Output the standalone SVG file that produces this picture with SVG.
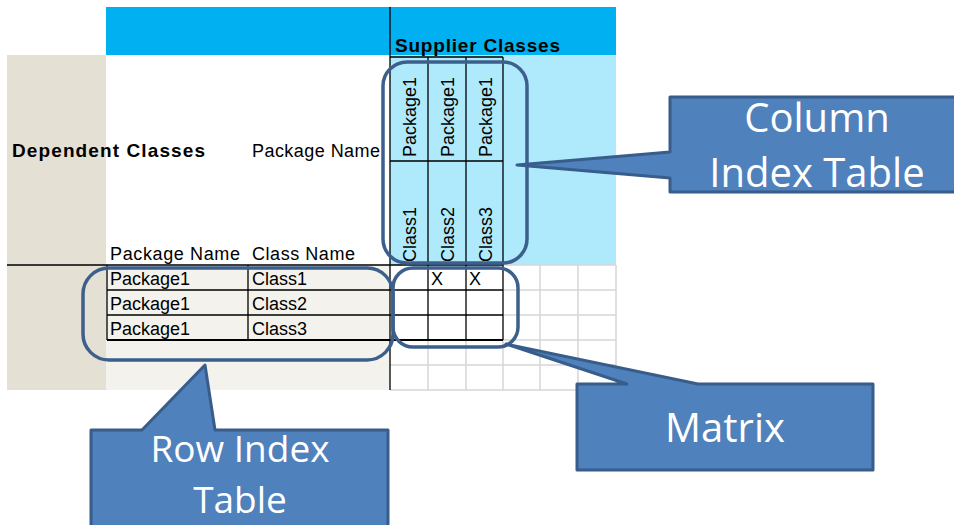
<svg xmlns="http://www.w3.org/2000/svg" width="954" height="525" viewBox="0 0 954 525">
<style>
.t{font-family:"Liberation Sans",Arial,sans-serif;font-size:18px;fill:#000}
.b{font-weight:bold;font-size:19px}
.dk{stroke:#000;stroke-width:1.3;fill:none}
.dk2{stroke:#000;stroke-width:2;fill:none}
.lg{stroke:#d6d6d6;stroke-width:1.5;fill:none}
.hl{fill:none;stroke:#3c5f8c;stroke-width:3.5}
.co{fill:#4f81bd;stroke:#385d8a;stroke-width:3;stroke-linejoin:round}
.ct{font-family:"Open Sans","Liberation Sans",sans-serif;font-size:40px;fill:#fff;text-anchor:middle}
.cs{font-size:37px}
</style>
<rect width="954" height="525" fill="#fff"/>
<g id="sheet">
<rect x="106" y="7" width="510" height="48" fill="#00b0f0"/>
<rect x="7" y="55" width="99" height="335" fill="#e4e0d4"/>
<rect x="390" y="55" width="226" height="210" fill="#aeeafc"/>
<rect x="106" y="265" width="284" height="125" fill="#f3f2ec"/>
<path class="lg" d="M540,265V390M578,265V390M616,265V390M428,340V390M466,340V390M503,340V390M503,265H616M503,290H616M503,315H616M390,340H616M390,365H616M390,390H616"/>
<path class="dk" d="M390,7V390M7,265H503M390,57H503M428,57V340M466,57V340M503,57V340M390,161H503M107,265V340M248,265V340M107,290H503M107,315H503"/>
<path class="dk2" d="M107,340H503"/>
<text class="t b" x="395" y="52" textLength="165" lengthAdjust="spacing">Supplier Classes</text>
<text class="t b" x="12" y="157" textLength="193" lengthAdjust="spacing">Dependent Classes</text>
<text class="t" x="252" y="157" textLength="128" lengthAdjust="spacing">Package Name</text>
<text class="t" x="110" y="260" textLength="130" lengthAdjust="spacing">Package Name</text>
<text class="t" x="252" y="260" textLength="103" lengthAdjust="spacing">Class Name</text>
<text class="t" transform="translate(416,157) rotate(-90)">Package1</text>
<text class="t" transform="translate(454,157) rotate(-90)">Package1</text>
<text class="t" transform="translate(492,157) rotate(-90)">Package1</text>
<text class="t" transform="translate(416,262) rotate(-90)">Class1</text>
<text class="t" transform="translate(454,262) rotate(-90)">Class2</text>
<text class="t" transform="translate(492,262) rotate(-90)">Class3</text>
<text class="t" x="110" y="285">Package1</text>
<text class="t" x="110" y="310">Package1</text>
<text class="t" x="110" y="335">Package1</text>
<text class="t" x="252" y="285">Class1</text>
<text class="t" x="252" y="310">Class2</text>
<text class="t" x="252" y="335">Class3</text>
<text class="t" x="431" y="285">X</text>
<text class="t" x="469" y="285">X</text>
</g>
<g id="highlights">
<rect id="hl-column" class="hl" x="383" y="62" width="144" height="201" rx="24"/>
<rect id="hl-row" class="hl" x="83" y="268" width="310" height="92" rx="26"/>
<rect id="hl-matrix" class="hl" x="393" y="268" width="125" height="79" rx="20"/>
</g>
<g id="connectors"></g>
<g id="callout-column">
<path class="co" d="M670,97H958V192H670V178L517,165L670,152Z"/>
<text class="ct" x="817" y="132">Column</text>
<text class="ct" x="817" y="187">Index Table</text>
</g>
<g id="callout-row">
<path class="co" d="M91,430H142L205,365L215,430H388V530H91Z"/>
<text class="ct cs" x="240" y="462">Row Index</text>
<text class="ct cs" x="240" y="513">Table</text>
</g>
<g id="callout-matrix">
<path class="co" d="M577,384H627L506,344L698,384H873V470H577Z"/>
<text class="ct" x="725" y="442">Matrix</text>
</g>
</svg>
